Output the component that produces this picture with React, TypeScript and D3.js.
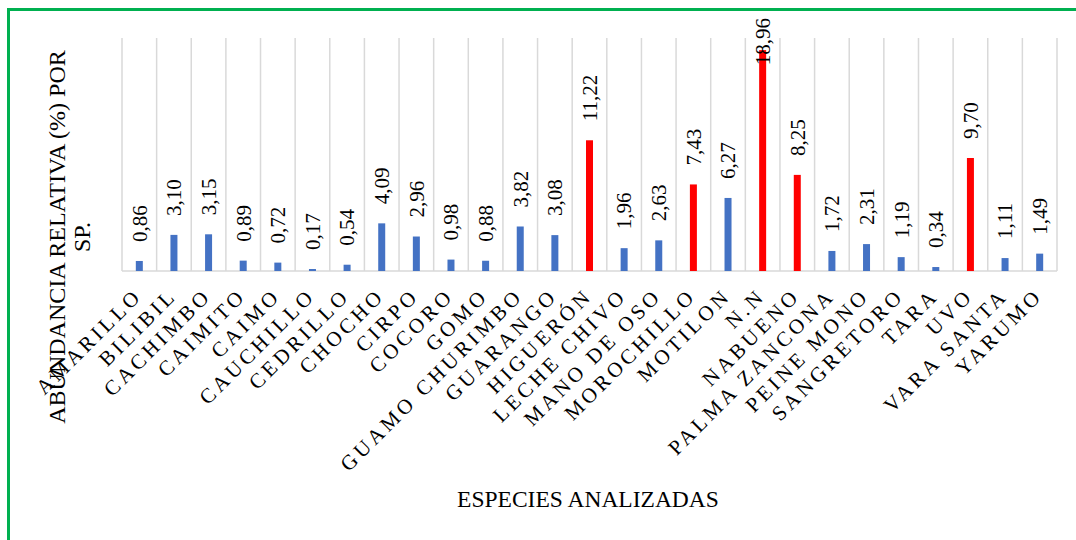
import { scaleBand, scaleLinear, format } from "d3";

const chartWidth = 1076;
const chartHeight = 540;

const species = [
  "AMARILLO", "BILIBIL", "CACHIMBO", "CAIMITO", "CAIMO", "CAUCHILLO",
  "CEDRILLO", "CHOCHO", "CIRPO", "COCORO", "GOMO", "GUAMO CHURIMBO",
  "GUARANGO", "HIGUERÓN", "LECHE CHIVO", "MANO DE OSO", "MOROCHILLO",
  "MOTILON", "N.N", "NABUENO", "PALMA ZANCONA", "PEINE MONO",
  "SANGRETORO", "TARA", "UVO", "VARA SANTA", "YARUMO",
];
const abundance = [
  0.86, 3.1, 3.15, 0.89, 0.72, 0.17, 0.54, 4.09, 2.96, 0.98, 0.88, 3.82,
  3.08, 11.22, 1.96, 2.63, 7.43, 6.27, 18.96, 8.25, 1.72, 2.31, 1.19, 0.34,
  9.7, 1.11, 1.49,
];
// species highlighted in red
const highlighted = ["HIGUERÓN", "MOROCHILLO", "N.N", "NABUENO", "UVO"];

const yDomain = [0, 20];
const yTitleLines = ["ABUNDANCIA RELATIVA (%) POR", "SP."];
const xTitle = "ESPECIES ANALIZADAS";

const plotLeft = 122;
const plotRight = 1057;
const plotTop = 38;
const plotBottom = 271;
const barWidth = 7;
const labelSize = 21;
const serif = "'Liberation Serif', 'Times New Roman', Times, serif";

const xScale = scaleBand<string>().domain(species).range([plotLeft, plotRight]).padding(0);
const yScale = scaleLinear().domain(yDomain).range([plotBottom, plotTop]);
const fmt = (v: number) => format(".2f")(v).replace(".", ",");

// rough length of a value label, to keep it inside the chart
const labelLength = (s: string) =>
  s.split("").reduce((acc, c) => acc + (c === "," ? 0.25 : 0.5), 0) * labelSize;

export default function App() {
  const bw = xScale.bandwidth();
  return (
    <svg
      width={chartWidth}
      height={chartHeight}
      style={{ position: "absolute", left: 0, top: 0, background: "white", fontFamily: serif }}
    >
      <rect x={0} y={0} width={chartWidth} height={chartHeight} fill="white" />
      <rect x={8.5} y={9.5} width={1200} height={700} fill="none" stroke="#00B050" strokeWidth={3} />

      {/* vertical gridlines at category borders */}
      {species.map((s) => (
        <line
          key={"g" + s}
          x1={xScale(s)}
          x2={xScale(s)}
          y1={plotTop}
          y2={plotBottom}
          stroke="#d9d9d9"
          strokeWidth={1.5}
        />
      ))}
      <line x1={plotRight} x2={plotRight} y1={plotTop} y2={plotBottom} stroke="#d9d9d9" strokeWidth={1.5} />
      <line x1={plotLeft} x2={plotRight} y1={plotBottom} y2={plotBottom} stroke="#d9d9d9" strokeWidth={1.5} />

      {species.map((s, i) => {
        const cx = (xScale(s) ?? 0) + bw / 2;
        const top = yScale(abundance[i]);
        const txt = fmt(abundance[i]);
        const ly = Math.max(top - 19, 18 + labelLength(txt));
        return (
          <g key={"b" + s}>
            <rect
              x={cx - barWidth / 2}
              y={top}
              width={barWidth}
              height={plotBottom - top}
              fill={highlighted.includes(s) ? "#FF0000" : "#4472C4"}
            />
            <text
              transform={`translate(${cx},${ly}) rotate(-90)`}
              dy="0.35em"
              style={{ fontFamily: serif, fontSize: labelSize }}
              fill="#000"
            >
              {txt}
            </text>
          </g>
        );
      })}

      {/* category labels */}
      {species.map((s) => {
        const cx = (xScale(s) ?? 0) + bw / 2;
        return (
          <text
            key={"l" + s}
            transform={`translate(${cx + 4},${plotBottom + 26}) rotate(-45)`}
            textAnchor="end"
            style={{ fontFamily: serif, fontSize: 21, letterSpacing: 3.6 }}
            fill="#000"
          >
            {s}
          </text>
        );
      })}

      {/* y title */}
      <g transform="translate(65,237) rotate(-90)">
        {yTitleLines.map((t, i) => (
          <text
            key={t}
            x={0}
            y={i * 25}
            textAnchor="middle"
            style={{ fontFamily: serif, fontSize: 24 }}
            fill="#000"
          >
            {t}
          </text>
        ))}
      </g>

      <text x={588} y={507} textAnchor="middle" style={{ fontFamily: serif, fontSize: 23.5 }} fill="#000">
        {xTitle}
      </text>
    </svg>
  );
}
